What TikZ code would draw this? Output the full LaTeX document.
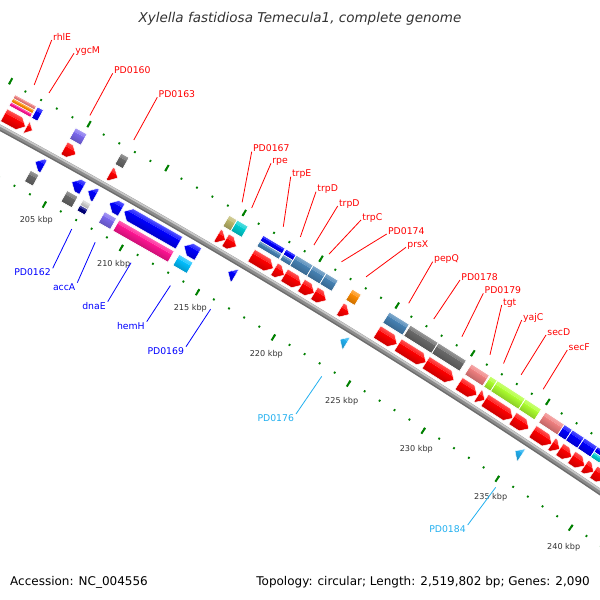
\documentclass[tikz,border=0pt]{standalone}
\usepackage{fontspec}
\usepackage{xfp}
\setmainfont{DejaVu Sans}
\definecolor{cogGray}{HTML}{696969}
\definecolor{cogSlate}{HTML}{7B68EE}
\definecolor{cogKhaki}{HTML}{BDB76B}
\definecolor{cogTurq}{HTML}{00CED1}
\definecolor{cogSteel}{HTML}{4682B4}
\definecolor{cogOrange}{HTML}{FF8C00}
\definecolor{cogCoral}{HTML}{F08080}
\definecolor{cogLime}{HTML}{ADFF2F}
\definecolor{cogPink}{HTML}{FF1493}
\definecolor{cogSky}{HTML}{00BFFF}
\definecolor{cogSilver}{HTML}{D3D3D3}
\definecolor{cogNavy}{HTML}{000080}
\definecolor{cdsred}{HTML}{FF0000}
\definecolor{cdsblue}{HTML}{0000FF}
\definecolor{trnacol}{HTML}{22B0F0}
\definecolor{ticgreen}{HTML}{008000}
\definecolor{txtgray}{HTML}{333333}
% polar point about the map centre (-3393,-6393); #1 angle clockwise from top, #2 radius
\newcommand\polpt[4]{\edef#3{\fpeval{round(-3393+(#2)*sind(#1),3)}}\edef#4{\fpeval{round((#2)*cosd(#1)-6393,3)}}}
% 3D-look fill: #1 colour, #2 ybot, #3 ytop, #4 length, #5 path
\newcommand\tdshape[5]{%
  \edef\tdS{\fpeval{(#2)+0.68*((#3)-(#2))}}%
  \begin{scope}
    \clip #5;
    \shade[top color=#1,bottom color=#1!78!black] (-1,#2-0.5) rectangle (#4+1,\tdS);
    \shade[top color=#1!62!white,bottom color=#1!88!white] (-1,\tdS) rectangle (#4+1,#3+0.5);
  \end{scope}
  \draw[white,line width=0.45pt] #5;}
\newcommand\stripebox[5]{%
  \polpt{#1}{#3}\bxX\bxY
  \edef\bxL{\fpeval{round((#3)*((#2)-(#1))*pi/180,3)}}%
  \foreach \c [count=\n] in {#5} {\xdef\nstr{\n}}%
  \begin{scope}[transform canvas={shift={(\bxX,\bxY)},rotate=-#1}]
    \foreach \c [count=\i] in {#5} {
      \edef\ytop{\fpeval{#4-(\i-1)*2*#4/\nstr}}
      \edef\ybot{\fpeval{#4-\i*2*#4/\nstr}}
      \tdshape{\c}{\ybot}{\ytop}{\bxL}{(0,\ybot) rectangle (\bxL,\ytop)}
    }
    \draw[white,line width=0.5pt] (0,-#4) rectangle (\bxL,#4);
  \end{scope}}
\newcommand\garrow[6]{%
  \polpt{#1}{#3}\arX\arY
  \edef\arL{\fpeval{round((#3)*((#2)-(#1))*pi/180,3)}}%
  \edef\arH{\fpeval{min(7,\arL)}}%
  \edef\arN{\fpeval{\arL-\arH}}%
  \begin{scope}[transform canvas={shift={(\arX,\arY)},rotate=-#1}]
    \if f#6
      \tdshape{#5}{-#4}{#4}{\arL}{(0,-#4) -- (\arN,-#4) -- (\arL,0) -- (\arN,#4) -- (0,#4) -- cycle}
    \else
      \tdshape{#5}{-#4}{#4}{\arL}{(\arL,-#4) -- (\arH,-#4) -- (0,0) -- (\arH,#4) -- (\arL,#4) -- cycle}
    \fi
  \end{scope}}
\newcommand\fgene[4]{%
  \edef\gA{\fpeval{round(asind((#2+3393)/7155),5)}}%
  \edef\gB{\fpeval{round(asind((#3+3393)/7155),5)}}%
  \stripebox{\gA}{\gB}{7155}{6.4}{#4}%
  \garrow{\gA}{\gB}{7138}{7}{cdsred}{f}%
  \edef\gM{\fpeval{(\gA+\gB)/2}}%
  \polpt{\gM}{7179}\gX\gY
  \coordinate (g#1) at (\gX,\gY);}
\newcommand\rgene[4]{%
  \edef\gA{\fpeval{round(asind((#2+3393)/7096),5)}}%
  \edef\gB{\fpeval{round(asind((#3+3393)/7096),5)}}%
  \stripebox{\gA}{\gB}{7096}{6.4}{#4}%
  \garrow{\gA}{\gB}{7112}{7}{cdsblue}{r}%
  \edef\gM{\fpeval{(\gA+\gB)/2}}%
  \polpt{\gM}{7071}\gX\gY
  \coordinate (g#1) at (\gX,\gY);}
\newcommand\rtri[4]{%
  \edef\gA{\fpeval{round(asind((#2+3393)/7112),5)}}%
  \edef\gB{\fpeval{round(asind((#3+3393)/7112),5)}}%
  \garrow{\gA}{\gB}{7112}{7}{#4}{r}%
  \edef\gM{\fpeval{(\gA+\gB)/2}}%
  \polpt{\gM}{7071}\gX\gY
  \coordinate (g#1) at (\gX,\gY);}
\tikzset{
  olbl/.style={font=\fontsize{9.3}{11}\selectfont,text=cdsred,inner sep=0pt,anchor=base west},
  ilbl/.style={font=\fontsize{9.3}{11}\selectfont,inner sep=0pt,anchor=north east},
  tlbl/.style={font=\fontsize{8.1}{10}\selectfont,text=txtgray,inner sep=0pt},
  oline/.style={cdsred,line width=0.8pt},
  bbmain/.style={line width=6pt,color=black!45},
  bbhi/.style={line width=1.8pt,color=black!22},
  bblo/.style={line width=1.1pt,color=black!58},
  tickdot/.style={ticgreen,line width=1.8pt},
  ticklong/.style={ticgreen,line width=2pt}
}
\newcommand\olab[4]{%
  \node[olbl] (l#1) at (#3+1.2,-#4) {#2};
  \draw[oline] (g#1) -- ([xshift=-1.2pt]l#1.base west);}
\newcommand\ilab[5]{%
  \node[ilbl,text=#5] (l#1) at (#3-1.8,-#4-0.5) {#2};
  \draw[#5,line width=0.8pt] (g#1) -- ([xshift=1.8pt,yshift=0.5pt]l#1.north east);}
\begin{document}
\begin{tikzpicture}[x=1pt,y=1pt]
\useasboundingbox (0,0) rectangle (600,-600);
\fill[white] (0,0) rectangle (600,-600);
\begin{scope}
\clip (0,0) rectangle (600,-600);
% backbone
\polpt{26}{7125}\bbx\bby
\draw[bbmain] (\bbx,\bby) arc[start angle=64,end angle=53,radius=7125pt];
\polpt{26}{7126.9}\bbx\bby
\draw[bbhi] (\bbx,\bby) arc[start angle=64,end angle=53,radius=7126.9pt];
\polpt{26}{7122.8}\bbx\bby
\draw[bblo] (\bbx,\bby) arc[start angle=64,end angle=53,radius=7122.8pt];
% ruler ticks
\foreach \k in {195,...,246} {
  \edef\tph{\fpeval{0.142869*\k-0.238}}
  \polpt{\tph}{7168}\ax\ay \polpt{\tph}{7170}\bx\by
  \draw[tickdot] (\ax,\ay) -- (\bx,\by);
  \polpt{\tph}{7080}\ax\ay \polpt{\tph}{7082}\bx\by
  \draw[tickdot] (\ax,\ay) -- (\bx,\by);
}
\foreach \k in {195,200,...,245} {
  \edef\tph{\fpeval{0.142869*\k-0.238}}
  \polpt{\tph}{7167.5}\ax\ay \polpt{\tph}{7174.5}\bx\by
  \draw[ticklong] (\ax,\ay) -- (\bx,\by);
  \polpt{\tph}{7075.5}\ax\ay \polpt{\tph}{7082.5}\bx\by
  \draw[ticklong] (\ax,\ay) -- (\bx,\by);
}
% forward genes
\fgene{rhlE}{12}{33.5}{cogCoral,cogOrange,cogPink}
\fgene{ygcM}{34.5}{40.5}{cdsblue}
\fgene{PD0160}{72.5}{84}{cogSlate}
\fgene{PD0163}{118}{126}{cogGray}
\fgene{PD0167}{226}{234}{cogKhaki}
\fgene{rpe}{234}{245}{cogTurq}
\fgene{trpE}{260}{282}{cdsblue,cogSteel}
\fgene{trpDa}{283}{293}{cdsblue,cogSteel}
\fgene{trpDb}{293}{310}{cogSteel}
\fgene{trpC}{310}{323}{cogSteel}
\fgene{PD0174}{323}{335}{cogSteel}
\fgene{prsX}{349}{358}{cogOrange}
\fgene{pepQ}{386}{406}{cogSteel}
\fgene{PD0178}{407}{435}{cogGray}
\fgene{PD0179}{435}{463}{cogGray}
\fgene{tgt}{468}{486}{cogCoral}
\fgene{yajC}{487}{494}{cogLime}
\fgene{secD}{494}{522}{cogLime}
\fgene{secF}{522}{538}{cogLime}
\fgene{fa}{542}{561}{cogCoral}
\fgene{fb}{561}{569}{cdsblue}
\fgene{fc}{569}{581}{cdsblue}
\fgene{fd}{581}{594}{cdsblue}
\fgene{fe}{594}{603}{cdsblue,cogTurq}
\fgene{ff}{603}{615}{cdsblue}
% reverse genes
\rgene{ra}{27.5}{36}{cogGray}
\rgene{rb}{64}{75}{cogGray}
\rgene{PD0162}{80}{88}{cogSilver,cogNavy}
\rgene{accA}{101.5}{113.5}{cogSlate}
\rgene{dnaE}{116}{171}{cogPink}
\rgene{hemH}{176}{190}{cogSky}
\rtri{PD0169}{228}{235}{cdsblue}
\rtri{PD0176}{340}{346.5}{trnacol}
\rtri{PD0184}{515}{521.5}{trnacol}
\end{scope}
% tick labels
\node[tlbl] (t205) at (36.3,-220) {205 kbp};
\node[tlbl] (t210) at (113.7,-264.3) {210 kbp};
\node[tlbl] (t215) at (190.3,-308.3) {215 kbp};
\node[tlbl] (t220) at (266.3,-354) {220 kbp};
\node[tlbl] (t225) at (341.7,-401) {225 kbp};
\node[tlbl] (t230) at (416.3,-449) {230 kbp};
\node[tlbl] (t235) at (490.7,-497.7) {235 kbp};
\node[tlbl] (t240) at (563.7,-547.7) {240 kbp};
% outer labels
\olab{rhlE}{rhlE}{51.7}{40}
\olab{ygcM}{ygcM}{74}{53.3}
\olab{PD0160}{PD0160}{112.7}{73.3}
\olab{PD0163}{PD0163}{157.3}{97.3}
\olab{PD0167}{PD0167}{251.7}{151.7}
\olab{rpe}{rpe}{271}{163.3}
\olab{trpE}{trpE}{290.7}{176.7}
\olab{trpDa}{trpD}{316}{191.7}
\olab{trpDb}{trpD}{337.7}{206}
\olab{trpC}{trpC}{361}{220}
\olab{PD0174}{PD0174}{386.7}{234}
\olab{prsX}{prsX}{406}{247.3}
\olab{pepQ}{pepQ}{432.7}{261.7}
\olab{PD0178}{PD0178}{460}{280}
\olab{PD0179}{PD0179}{483.3}{293.3}
\olab{tgt}{tgt}{501.7}{305}
\olab{yajC}{yajC}{521.7}{320}
\olab{secD}{secD}{546}{335}
\olab{secF}{secF}{567.3}{350}
% inner labels
\ilab{PD0162}{PD0162}{52.7}{268.3}{cdsblue}
\ilab{accA}{accA}{77.3}{282.7}{cdsblue}
\ilab{dnaE}{dnaE}{107.7}{301.7}{cdsblue}
\ilab{hemH}{hemH}{146.7}{321.7}{cdsblue}
\ilab{PD0169}{PD0169}{186}{346.7}{cdsblue}
\ilab{PD0176}{PD0176}{296}{414}{trnacol}
\ilab{PD0184}{PD0184}{467.7}{525}{trnacol}
% title and footer
\node[font=\fontsize{13.5}{16}\selectfont\itshape,text=txtgray,inner sep=0pt] (title) at (300,-18.5) {Xylella fastidiosa Temecula1, complete genome};
\node[font=\fontsize{12}{14}\selectfont,inner sep=0pt,anchor=base west] (acc) at (10,-585.5) {Accession: NC\_004556};
\node[font=\fontsize{12}{14}\selectfont,inner sep=0pt,anchor=base east] (topo) at (590,-585.5) {Topology: circular; Length: 2,519,802 bp; Genes: 2,090};
\end{tikzpicture}
\end{document}
